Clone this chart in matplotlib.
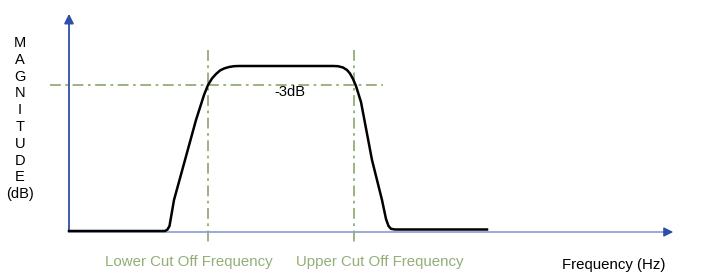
import numpy as np
import matplotlib.pyplot as plt

plt.rcParams['font.family'] = ['Liberation Sans', 'DejaVu Sans']

# band-pass response sketch (frequency / magnitude in drawing units)
freq = [0, 96, 98.5, 100.5, 105, 116, 127, 135, 139, 143, 147, 151, 155, 160, 165, 170,
        264, 269, 274, 278, 281, 284, 287, 292, 303, 313, 317, 319.5, 322, 326, 418]
mag = [1, 1, 2.5, 6, 32, 72, 112, 137, 147, 153.5, 158, 161.5, 163.5, 165, 165.8, 166,
       166, 165.8, 164.5, 162, 158.5, 153, 146, 130, 72, 32, 13, 6, 3.2, 2.5, 2.5]

f_low = 139
f_high = 285
mag_3db = 147
ylabel_letters = list('MAGNITUDE') + ['(dB)']

green = '#93AE78'

fig = plt.figure(figsize=(7.09, 2.75), dpi=100)
ax = fig.add_axes([0, 0, 1, 1])
ax.set_xlim(-69, 640)
ax.set_ylim(-43, 232)
ax.axis('off')

# axes arrows
ax.plot([0, 600], [0, 0], color='#93A3D6', lw=1.3, zorder=1)
ax.annotate('', xy=(607, 0), xytext=(595, 0),
            arrowprops=dict(arrowstyle='-|>', color='#2E4FA8', lw=1, mutation_scale=14))
ax.annotate('', xy=(0, 221), xytext=(0, -0.5),
            arrowprops=dict(arrowstyle='-|>', color='#2E4FA8', lw=1.3, mutation_scale=14))

# cut-off guide lines
dash = (0, (6, 2.5, 1.5, 2.5))
ax.plot([-19, 314], [mag_3db, mag_3db], color=green, lw=1.3, linestyle=dash)
for fc in [f_low, f_high]:
    ax.plot([fc, fc], [182, -10], color=green, lw=1.3, linestyle=dash)

# response curve
ax.plot(freq, mag, color='black', lw=1.8, solid_joinstyle='round', zorder=3)

ax.text(221, 140, '-3dB', ha='center', va='center', fontsize=10.5)
ax.text(120, -30, 'Lower Cut Off Frequency', ha='center', va='center', fontsize=10.8, color=green)
ax.text(311, -30, 'Upper Cut Off Frequency', ha='center', va='center', fontsize=10.8, color=green)
ax.text(545, -33, 'Frequency (Hz)', ha='center', va='center', fontsize=10.8)

for i, s in enumerate(ylabel_letters):
    ax.text(-49, 189 - i * 16.8, s, ha='center', va='center', fontsize=10.5)

fig.savefig('out.png', dpi=100)
